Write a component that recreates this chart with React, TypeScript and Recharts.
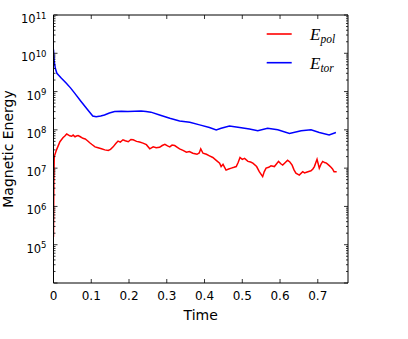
import React from 'react';
import { LineChart, Line, XAxis, YAxis, Legend } from 'recharts';

// Toroidal magnetic energy (blue)
const tTor = [0, 0.002, 0.005, 0.009, 0.021, 0.034, 0.045, 0.056, 0.073, 0.091, 0.104, 0.113, 0.125, 0.135, 0.148, 0.162, 0.18, 0.197, 0.215, 0.232, 0.245, 0.258, 0.281, 0.308, 0.334, 0.361, 0.387, 0.413, 0.431, 0.444, 0.466, 0.493, 0.519, 0.541, 0.567, 0.594, 0.625, 0.656, 0.682, 0.704, 0.73, 0.748];
const eTor = [1.25e10, 6.0e9, 4.0e9, 3.0e9, 2.24e9, 1.66e9, 1.25e9, 9.1e8, 5.5e8, 3.3e8, 2.3e8, 2.2e8, 2.3e8, 2.45e8, 2.75e8, 3.0e8, 3.05e8, 3.0e8, 3.05e8, 3.1e8, 3.0e8, 2.9e8, 2.45e8, 2.0e8, 1.7e8, 1.58e8, 1.35e8, 1.15e8, 1.0e8, 1.1e8, 1.26e8, 1.15e8, 1.05e8, 9.5e7, 1.1e8, 1.0e8, 8.1e7, 9.5e7, 1.0e8, 8.5e7, 7.4e7, 8.5e7];

// Poloidal magnetic energy (red)
const tPol = [0, 0.001, 0.002, 0.008, 0.017, 0.025, 0.03, 0.035, 0.039, 0.043, 0.048, 0.052, 0.057, 0.061, 0.065, 0.07, 0.078, 0.084, 0.09, 0.096, 0.101, 0.11, 0.118, 0.127, 0.136, 0.145, 0.151, 0.158, 0.165, 0.171, 0.177, 0.184, 0.19, 0.198, 0.205, 0.211, 0.22, 0.228, 0.237, 0.246, 0.255, 0.264, 0.272, 0.281, 0.288, 0.295, 0.302, 0.308, 0.314, 0.321, 0.328, 0.334, 0.343, 0.352, 0.36, 0.369, 0.38, 0.386, 0.39, 0.396, 0.405, 0.413, 0.422, 0.431, 0.44, 0.444, 0.449, 0.457, 0.464, 0.471, 0.478, 0.484, 0.489, 0.494, 0.5, 0.506, 0.515, 0.522, 0.528, 0.538, 0.545, 0.554, 0.558, 0.563, 0.57, 0.576, 0.585, 0.591, 0.596, 0.602, 0.607, 0.614, 0.62, 0.626, 0.632, 0.637, 0.642, 0.651, 0.66, 0.665, 0.67, 0.676, 0.682, 0.687, 0.691, 0.698, 0.704, 0.709, 0.713, 0.718, 0.723, 0.729, 0.735, 0.739, 0.743, 0.75];
const ePol = [1.6e5, 5.0e6, 2.0e7, 3.0e7, 4.9e7, 6.2e7, 6.9e7, 7.8e7, 7.4e7, 7.0e7, 6.8e7, 7.3e7, 6.6e7, 6.9e7, 7.1e7, 6.7e7, 6.0e7, 5.8e7, 5.2e7, 4.6e7, 4.2e7, 3.6e7, 3.4e7, 3.2e7, 3.0e7, 2.9e7, 3.1e7, 3.6e7, 4.4e7, 5.1e7, 4.8e7, 5.5e7, 5.2e7, 4.9e7, 5.6e7, 5.5e7, 5.0e7, 4.8e7, 4.5e7, 4.1e7, 3.2e7, 3.6e7, 3.4e7, 3.5e7, 3.9e7, 4.2e7, 3.8e7, 3.6e7, 4.0e7, 3.9e7, 3.5e7, 3.2e7, 2.9e7, 2.6e7, 2.7e7, 2.45e7, 2.3e7, 2.5e7, 3.2e7, 2.45e7, 2.3e7, 2.1e7, 1.9e7, 1.6e7, 1.35e7, 1.1e7, 1.26e7, 8.9e6, 9.5e6, 1.0e7, 1.05e7, 1.1e7, 1.4e7, 1.9e7, 1.7e7, 1.8e7, 1.5e7, 1.45e7, 1.35e7, 1.1e7, 8.1e6, 6.0e6, 8.0e6, 1.0e7, 1.05e7, 1.15e7, 1.1e7, 1.3e7, 1.5e7, 1.3e7, 1.2e7, 1.4e7, 1.6e7, 1.45e7, 1.2e7, 9.0e6, 7.4e6, 6.6e6, 8.1e6, 7.5e6, 7.8e6, 8.2e6, 8.5e6, 9.5e6, 1.1e7, 1.7e7, 1.0e7, 1.3e7, 1.5e7, 1.4e7, 1.35e7, 1.2e7, 1.05e7, 9.5e6, 8.1e6, 8.1e6];

const xTicks = [0, 0.1, 0.2, 0.3, 0.4, 0.5, 0.6, 0.7];
const yExponents = [4, 5, 6, 7, 8, 9, 10, 11];
const minorMultipliers = [2, 3, 4, 5, 6, 7, 8, 9];

const torData = tTor.map((t, i) => ({ t, e: eTor[i] }));
const polData = tPol.map((t, i) => ({ t, e: ePol[i] }));

const yMajor = yExponents.map((p) => Math.pow(10, p));
const yTicks: number[] = [];
yExponents.forEach((p, i) => {
  yTicks.push(Math.pow(10, p));
  if (i < yExponents.length - 1) minorMultipliers.forEach((m) => yTicks.push(m * Math.pow(10, p)));
});

const FONT = '"DejaVu Sans", sans-serif';

const isMajor = (v: number) => yMajor.some((m) => Math.abs(m - v) / m < 1e-6);

const LeftTick = (props: any) => {
  const { x, y, payload } = props;
  const major = isMajor(payload.value);
  const exp = Math.round(Math.log10(payload.value));
  return (
    <g>
      <line x1={x} x2={x + (major ? 4 : 2)} y1={y} y2={y} stroke="#000" strokeWidth={0.8} />
      {major && exp > 4 ? (
        <text x={x - 7} y={y + 8} textAnchor="end" fontFamily={FONT} fontSize={11.5} fill="#000">
          <tspan>10</tspan>
          <tspan dy={-4.5} fontSize={8.5}>{exp}</tspan>
        </text>
      ) : null}
    </g>
  );
};

const RightTick = (props: any) => {
  const { x, y, payload } = props;
  const major = isMajor(payload.value);
  return <line x1={x} x2={x - (major ? 4 : 2)} y1={y} y2={y} stroke="#000" strokeWidth={0.8} />;
};

const BottomTick = (props: any) => {
  const { x, y, payload } = props;
  return (
    <g>
      <line x1={x} x2={x} y1={y} y2={y - 4} stroke="#000" strokeWidth={0.8} />
      <text x={x} y={y + 17} textAnchor="middle" fontFamily={FONT} fontSize={12} fill="#000">
        {String(payload.value)}
      </text>
    </g>
  );
};

const TopTick = (props: any) => {
  const { x, y } = props;
  return <line x1={x} x2={x} y1={y} y2={y + 4} stroke="#000" strokeWidth={0.8} />;
};

const LegendContent = (props: any) => {
  const items = (props.payload || []) as any[];
  return (
    <svg width={110} height={60} style={{ display: 'block' }}>
      {items.map((it, i) => {
        const name = String(it.value);
        const [base, sub] = name.split('_');
        const cy = 16 + i * 28.7;
        return (
          <g key={name}>
            <line x1={8.7} x2={33.7} y1={cy} y2={cy} stroke={it.color} strokeWidth={1.6} />
            <text x={52} y={cy + 6} fontFamily='"Liberation Serif", serif' fontStyle="italic" fontSize={17} fill="#000">
              <tspan>{base}</tspan>
              <tspan dy={3} fontSize={11.5}>{sub}</tspan>
            </text>
          </g>
        );
      })}
    </svg>
  );
};

export default function App() {
  return (
    <div style={{ position: 'absolute', left: 0, top: 0, width: 408, height: 339, background: '#fff' }}>
      <LineChart width={408} height={339} margin={{ top: 0, right: 0, bottom: 0, left: 0 }}>
        <XAxis
          xAxisId="bottom"
          type="number"
          dataKey="t"
          domain={[0, 0.78]}
          ticks={xTicks}
          interval={0}
          orientation="bottom"
          height={56}
          tickSize={0}
          tickMargin={0}
          tickLine={false}
          axisLine={{ stroke: '#000', strokeWidth: 1 }}
          tick={<BottomTick />}
          allowDataOverflow
          label={{ value: 'Time', position: 'insideTop', offset: 27, fontFamily: FONT, fontSize: 14, fill: '#000' }}
        />
        <XAxis
          xAxisId="top"
          type="number"
          dataKey="t"
          domain={[0, 0.78]}
          ticks={xTicks}
          interval={0}
          orientation="top"
          height={15}
          tickSize={0}
          tickMargin={0}
          tickLine={false}
          axisLine={{ stroke: '#000', strokeWidth: 1 }}
          tick={<TopTick />}
          allowDataOverflow
        />
        <YAxis
          yAxisId="left"
          type="number"
          scale="log"
          domain={[1e4, 1e11]}
          ticks={yTicks}
          interval={0}
          orientation="left"
          width={53.5}
          tickSize={0}
          tickMargin={0}
          tickLine={false}
          axisLine={{ stroke: '#000', strokeWidth: 1 }}
          tick={<LeftTick />}
          allowDataOverflow
          label={{ value: 'Magnetic Energy', angle: -90, position: 'insideLeft', offset: 8.5, fontFamily: FONT, fontSize: 14, fill: '#000', style: { textAnchor: 'middle' } }}
        />
        <YAxis
          yAxisId="right"
          type="number"
          scale="log"
          domain={[1e4, 1e11]}
          ticks={yTicks}
          interval={0}
          orientation="right"
          width={60}
          tickSize={0}
          tickMargin={0}
          tickLine={false}
          axisLine={{ stroke: '#000', strokeWidth: 1 }}
          tick={<RightTick />}
          allowDataOverflow
        />
        <Legend
          layout="vertical"
          align="center"
          verticalAlign="middle"
          content={<LegendContent />}
          wrapperStyle={{ position: 'absolute', left: 258, top: 18, width: 110, height: 60 }}
        />
        <Line
          name="E_pol"
          data={polData}
          dataKey="e"
          xAxisId="bottom"
          yAxisId="left"
          stroke="#ff0000"
          strokeWidth={1.5}
          dot={false}
          type="linear"
          isAnimationActive={false}
        />
        <Line
          name="E_tor"
          data={torData}
          dataKey="e"
          xAxisId="bottom"
          yAxisId="left"
          stroke="#0000ff"
          strokeWidth={1.5}
          dot={false}
          type="linear"
          isAnimationActive={false}
        />
      </LineChart>
    </div>
  );
}
